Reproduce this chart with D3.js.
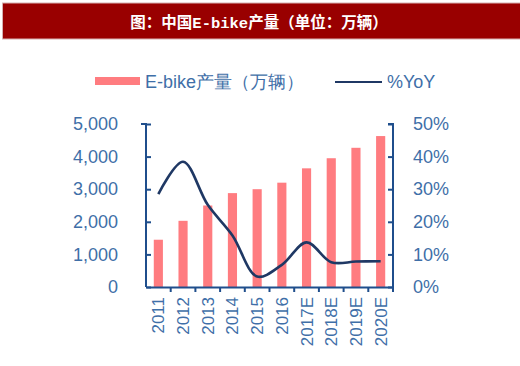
<!DOCTYPE html>
<html><head><meta charset="utf-8">
<script src="https://cdn.jsdelivr.net/npm/d3@7"></script>
<style>body{margin:0;background:#fff;} svg{display:block;}</style>
</head><body>
<svg id="c" width="520" height="366"></svg>
<script>
const categories = ["2011","2012","2013","2014","2015","2016","2017E","2018E","2019E","2020E"];
const production = [1450,2030,2500,2880,3000,3200,3640,3950,4270,4630];
const yoy = [28.5,38.4,25.2,15.8,3.2,6.8,13.7,7.6,7.8,7.9];
const leftTicks = [0,1000,2000,3000,4000,5000];
const rightTicks = [0,10,20,30,40,50];

const svg = d3.select("#c");
const blue = "#3f6fa8", axisCol = "#1f4e8c";
// title banner
svg.append("rect").attr("x",2.5).attr("y",3).attr("width",519).attr("height",36).attr("fill","#990000").attr("stroke","#d6b0b0").attr("stroke-width",1);
svg.append("text").attr("x",259).attr("y",28).attr("text-anchor","middle").attr("fill","#fff")
  .attr("font-family","'Liberation Mono','Noto Sans CJK SC',monospace").attr("font-weight","bold").attr("font-size",15.5)
  .text("图：中国E-bike产量（单位：万辆）");

const x0 = 146, x1 = 393, yTop = 124, yBot = 287;
const x = d3.scaleBand().domain(categories).range([x0,x1]);
const yL = d3.scaleLinear().domain([0,5000]).range([yBot,yTop]);
const yR = d3.scaleLinear().domain([0,50]).range([yBot,yTop]);

// bars
svg.append("g").selectAll("rect").data(categories).join("rect")
  .attr("x",d=>x(d)+x.bandwidth()*0.315).attr("width",x.bandwidth()*0.37)
  .attr("y",(d,i)=>yL(production[i])).attr("height",(d,i)=>yBot-yL(production[i]))
  .attr("fill","#ff7c80");

// line
const line = d3.line().x((d,i)=>x(categories[i])+x.bandwidth()/2).y(d=>yR(d)).curve(d3.curveCatmullRom.alpha(0.5));
svg.append("path").attr("d",line(yoy)).attr("fill","none").attr("stroke","#1f3864").attr("stroke-width",2.6);

const font = "Arial, 'Liberation Sans', sans-serif";
// left axis
const gl = svg.append("g").attr("transform",`translate(${x0},0)`)
  .call(d3.axisLeft(yL).tickValues(leftTicks).tickSize(-5).tickPadding(28).tickFormat(d3.format(",")));
// right axis
const gr = svg.append("g").attr("transform",`translate(${x1},0)`)
  .call(d3.axisRight(yR).tickValues(rightTicks).tickSize(-5).tickPadding(20).tickFormat(d=>d+"%"));
// bottom axis
const gb = svg.append("g").attr("transform",`translate(0,${yBot})`)
  .call(d3.axisBottom(x).tickSize(5).tickSizeOuter(0).tickPadding(0));
gb.selectAll(".tick line").attr("transform",`translate(${x.bandwidth()/2},0)`);
gb.selectAll(".tick text").attr("transform","rotate(-90)").attr("text-anchor","end")
  .attr("x",-10).attr("y",0).attr("dy","0.35em");
[gl,gr,gb].forEach(g=>{
  g.selectAll("path,line").attr("stroke",axisCol).attr("stroke-width",2);
  g.selectAll("text").attr("fill",blue).attr("font-family",font).attr("font-size",18);
});
gb.selectAll("text").attr("font-size",17);
gl.select(".domain").attr("d",`M-5,${yTop}H0V${yBot}`);
gr.select(".domain").attr("d",`M-5,${yTop}H0V${yBot}`);

// legend
svg.append("rect").attr("x",95).attr("y",77).attr("width",45).attr("height",8).attr("fill","#ff7c80");
svg.append("text").attr("x",145).attr("y",88).attr("fill",blue).attr("font-family",font).attr("font-size",18).text("E-bike产量（万辆）");
svg.append("line").attr("x1",335).attr("x2",382).attr("y1",82).attr("y2",82).attr("stroke","#1f3864").attr("stroke-width",2.2);
svg.append("text").attr("x",387).attr("y",88).attr("fill",blue).attr("font-family",font).attr("font-size",18).text("%YoY");
</script>
</body></html>
